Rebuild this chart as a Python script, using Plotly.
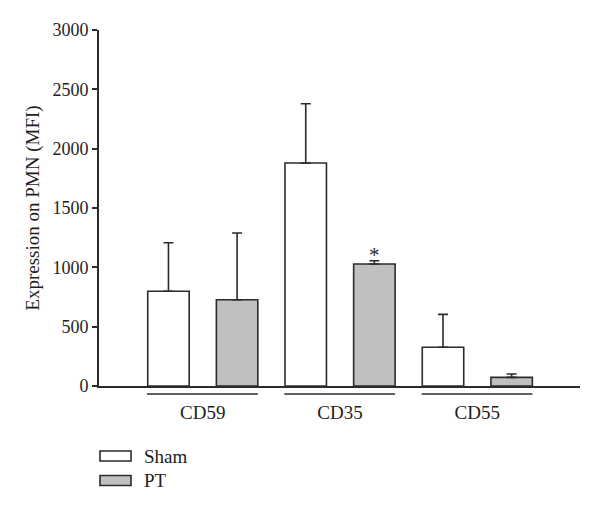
import plotly.graph_objects as go

categories = ["CD59", "CD35", "CD55"]
sham_values = [798, 1879, 326]
sham_errors = [409, 499, 278]
pt_values = [727, 1028, 73]
pt_errors = [562, 28, 28]
y_ticks = [0, 500, 1000, 1500, 2000, 2500, 3000]

FONT = "Liberation Serif"
LINE = "#2b2b2b"
GRAY = "#c0c0c0"
TXT = "#1e1e1e"
x_pos = list(range(len(categories)))
bargroupgap = 0.396

fig = go.Figure()
fig.add_trace(go.Bar(
    x=x_pos, y=sham_values, name="Sham",
    marker=dict(color="white", line=dict(color=LINE, width=1.6)),
    error_y=dict(type="data", symmetric=False, array=sham_errors,
                 arrayminus=[0] * len(sham_errors), color=LINE, thickness=1.6, width=5),
    showlegend=False,
))
fig.add_trace(go.Bar(
    x=x_pos, y=pt_values, name="PT",
    marker=dict(color=GRAY, line=dict(color=LINE, width=1.6)),
    error_y=dict(type="data", symmetric=False, array=pt_errors,
                 arrayminus=[0] * len(pt_errors), color=LINE, thickness=1.6, width=5),
    showlegend=False,
))

# group underlines below x axis
half = 0.5 * (1 - bargroupgap) / 2
for i in x_pos:
    fig.add_shape(type="line", xref="x", yref="paper",
                  x0=i - 0.25 - half - 0.005, x1=i + 0.25 + half,
                  y0=-0.0225, y1=-0.0225, line=dict(color=LINE, width=1.6))

# significance asterisk over CD35 PT
fig.add_annotation(x=1 + 0.25, y=pt_values[1] + pt_errors[1], yshift=6,
                   text="*", showarrow=False, font=dict(family=FONT, size=21, color=LINE))

# manual legend (wide swatches like the original)
legend_items = [("Sham", "white"), ("PT", GRAY)]
for k, (name, col) in enumerate(legend_items):
    yc = 456 + k * 24.5
    fig.add_shape(type="rect", xref="paper", yref="paper",
                  x0=(100 - 99) / 481, x1=(131 - 99) / 481,
                  y0=(386 - (yc + 5)) / 356, y1=(386 - (yc - 5)) / 356,
                  fillcolor=col, line=dict(color=LINE, width=1.6))
    fig.add_annotation(xref="paper", yref="paper", x=(142 - 99) / 481, y=(386 - yc) / 356,
                       text=name, showarrow=False, xanchor="left", yanchor="middle",
                       font=dict(family=FONT, size=19, color=TXT))

fig.update_layout(
    width=600, height=513,
    margin=dict(l=91, r=28, t=22, b=135),
    plot_bgcolor="white", paper_bgcolor="white",
    barmode="group", bargap=0, bargroupgap=bargroupgap,
    font=dict(family=FONT, size=18, color=TXT),
    xaxis=dict(range=[-0.756, 2.748], tickvals=x_pos, ticktext=categories,
               showline=True, linecolor=LINE, linewidth=1.6, showgrid=False,
               ticks="", ticklabelstandoff=8, zeroline=False,
               tickfont=dict(family=FONT, size=19, color=TXT)),
    yaxis=dict(range=[0, 3000], tickvals=y_ticks, showline=True, linecolor=LINE,
               linewidth=1.6, ticks="outside", ticklen=5, tickwidth=1.6, tickcolor=LINE,
               showgrid=False, zeroline=False, automargin=False,
               tickfont=dict(family=FONT, size=18, color=TXT),
               title=dict(text="Expression on PMN (MFI)", standoff=8,
                          font=dict(family=FONT, size=19, color=TXT))),
)

fig.write_html("out.html")
